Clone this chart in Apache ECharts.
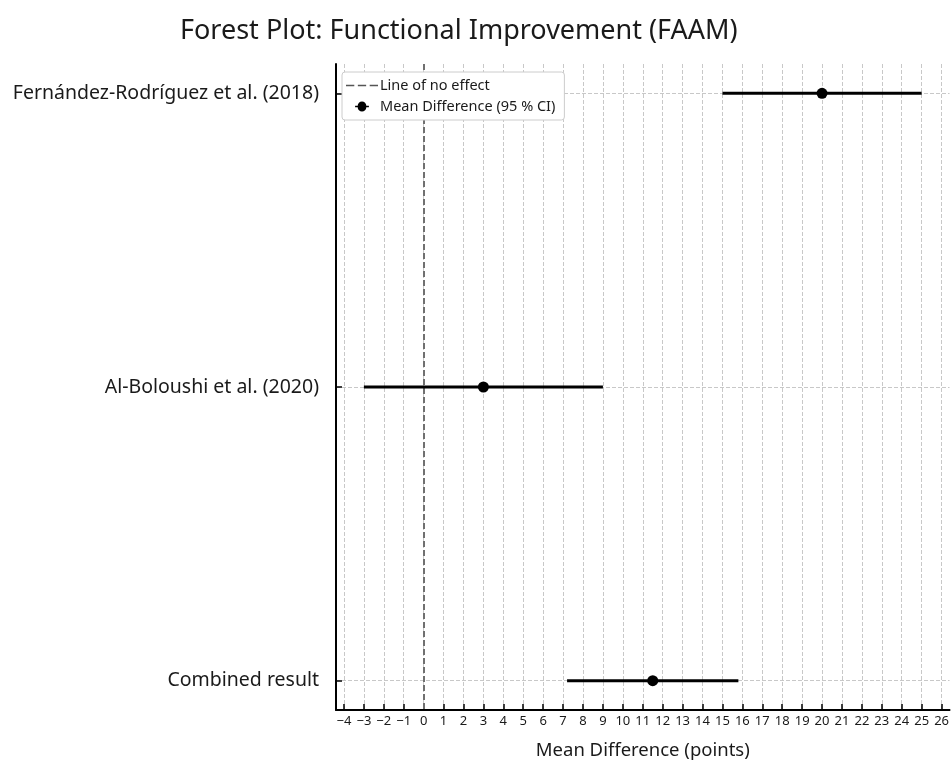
<!DOCTYPE html>
<html>
<head>
<meta charset="utf-8">
<script src="https://cdn.jsdelivr.net/npm/echarts@6/dist/echarts.min.js"></script>
<style>html,body{margin:0;padding:0;background:#fff}#c{width:952px;height:765px}</style>
</head>
<body>
<div id="c"></div>
<script>
const studies = ['Fernández-Rodríguez et al. (2018)', 'Al-Boloushi et al. (2020)', 'Combined result'];
const meanDiff = [20, 3, 11.5];
const ciLow = [15, -3, 7.2];
const ciHigh = [25, 9, 15.8];
const xTicks = [-4,-3,-2,-1,0,1,2,3,4,5,6,7,8,9,10,11,12,13,14,15,16,17,18,19,20,21,22,23,24,25,26];
const yPositions = [0, 1, 2];

const FONT = 'Noto Sans';
const chart = echarts.init(document.getElementById('c'), null, {renderer: 'canvas'});

const ciData = studies.map((s, i) => [ciLow[i], ciHigh[i], yPositions[i]]);
const ptData = studies.map((s, i) => [meanDiff[i], yPositions[i]]);

chart.setOption({
  animation: false,
  backgroundColor: '#fff',
  textStyle: {fontFamily: FONT},
  title: {
    text: 'Forest Plot: Functional Improvement (FAAM)',
    left: 175, top: 13,
    textStyle: {fontFamily: FONT, fontSize: 27, fontWeight: 'normal', color: '#1a1a1a'}
  },
  legend: {
    left: 342, top: 72,
    z: 20, zlevel: 0,
    orient: 'vertical',
    backgroundColor: '#fff',
    borderColor: '#cccccc',
    borderWidth: 1,
    borderRadius: 3,
    padding: [6, 9, 6, 4],
    itemGap: 6,
    itemWidth: 32,
    itemHeight: 10,
    textStyle: {fontFamily: FONT, fontSize: 14.5, color: '#1a1a1a', padding: [0,0,0,-3]},
    data: [
      {name: 'Line of no effect', icon: 'path://M2,4.3 H9 V5.7 H2 Z M12,4.3 H19 V5.7 H12 Z M22,4.3 H29 V5.7 H22 Z', itemStyle: {color: '#555'}},
      {name: 'Mean Difference (95 % CI)', icon: 'path://M9,4.2 H12 A5,5 0 0 1 22,4.2 H25 V5.8 H22 A5,5 0 0 1 12,5.8 H9 Z', itemStyle: {color: '#000'}}
    ]
  },
  grid: {left: 336, right: 0, top: 64, bottom: 51, containLabel: false},
  xAxis: {
    type: 'value', min: -4.4, max: 26.4,
    name: 'Mean Difference (points)', nameLocation: 'middle', nameGap: 31,
    nameTextStyle: {fontFamily: FONT, fontSize: 18.5, color: '#1a1a1a'},
    axisLine: {onZero: false, lineStyle: {color: '#000', width: 2}},
    axisTick: {inside: true, length: 6, lineStyle: {color: '#000', width: 1.5}, customValues: xTicks},
    axisLabel: {customValues: xTicks, margin: 5, fontSize: 13, color: '#1a1a1a', fontFamily: FONT,
      formatter: v => (v < 0 ? '\u2212' + Math.abs(v) : String(v))},
    splitLine: {show: true, lineStyle: {color: '#c8c8c8', type: [4, 2], width: 1}}
  },
  yAxis: {
    type: 'value', min: -0.1, max: 2.1, inverse: true,
    axisLine: {show: true, onZero: false, lineStyle: {color: '#000', width: 2}},
    axisTick: {show: true, inside: true, length: 6, lineStyle: {color: '#000', width: 1.5}, customValues: yPositions},
    axisLabel: {customValues: yPositions, margin: 17, fontSize: 19.5, color: '#1a1a1a', fontFamily: FONT,
      formatter: v => studies[Math.round(v)] || ''},
    splitLine: {show: true, lineStyle: {color: '#c8c8c8', type: [4, 2], width: 1}}
  },
  series: [
    {
      name: 'Line of no effect', type: 'line', data: [], symbol: 'none', z: 2,
      lineStyle: {color: '#666', width: 1.6, type: [5, 3]},
      itemStyle: {color: '#666'},
      markLine: {symbol: 'none', silent: true, label: {show: false}, z: 2,
        lineStyle: {color: '#707070', width: 2, type: [6, 3]},
        data: [{xAxis: 0}]}
    },
    {
      name: 'Mean Difference (95 % CI)', type: 'custom',
      data: ciData,
      renderItem: (params, api) => {
        const a = api.coord([api.value(0), api.value(2)]);
        const b = api.coord([api.value(1), api.value(2)]);
        return {type: 'line', shape: {x1: a[0], y1: a[1], x2: b[0], y2: b[1]},
          style: {stroke: '#000', lineWidth: 3}};
      },
      encode: {x: [0, 1], y: 2},
      itemStyle: {color: '#000'},
      z: 3
    },
    {
      name: 'Mean Difference (95 % CI)', type: 'scatter',
      data: ptData, symbol: 'circle', symbolSize: 11,
      itemStyle: {color: '#000', opacity: 1}, z: 4
    }
  ]
});
</script>
</body>
</html>
